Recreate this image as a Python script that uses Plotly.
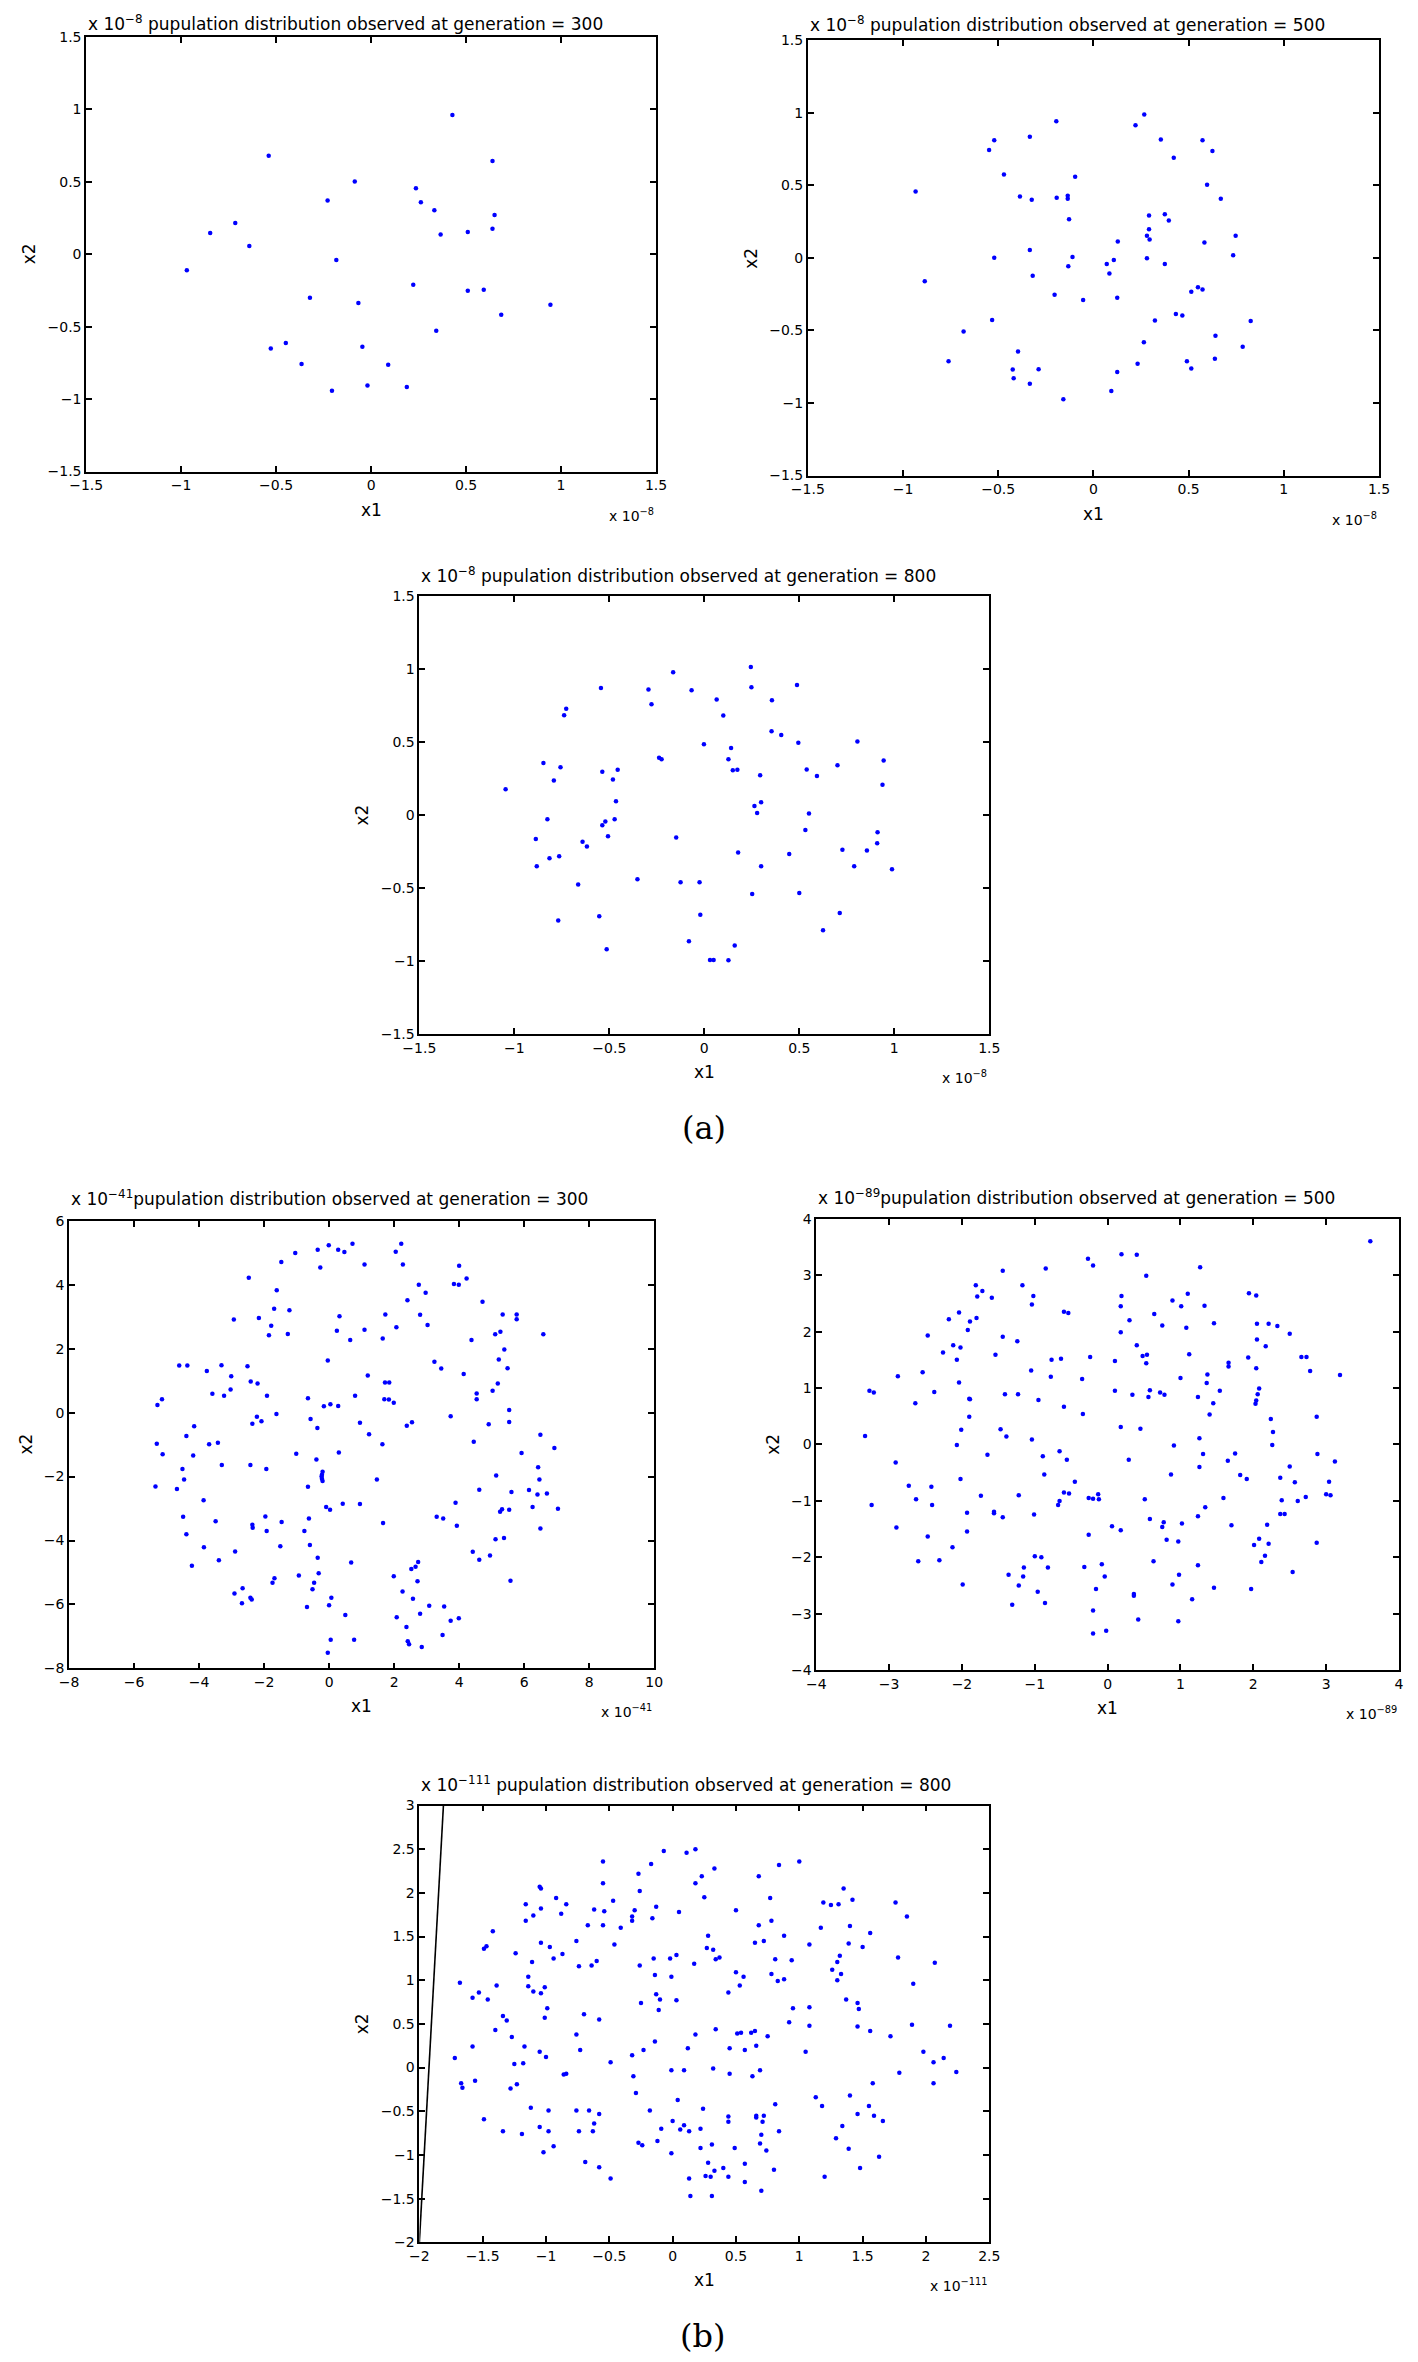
import plotly.graph_objects as go

PAGE_W, PAGE_H = 1418, 2362
OFF = 8  # default page margin around the plot div
W, H = PAGE_W - 2 * OFF, PAGE_H - 2 * OFF

# ---------------- data (values in units shown on the axes) ----------------
p1_x1 = [0.428, -0.539, 0.639, -0.086, 0.236, -0.229, 0.262, 0.333, 0.650, -0.715, 0.639, -0.847, 0.509,
         0.366, -0.641, -0.183, -0.970, 0.222, 0.509, 0.593, -0.322, -0.067, 0.944, 0.685, 0.343, -0.449,
         -0.528, -0.046, -0.366, 0.090, -0.019, 0.188, -0.206]
p1_x2 = [0.961, 0.680, 0.643, 0.501, 0.456, 0.371, 0.358, 0.303, 0.271, 0.216, 0.175, 0.147, 0.154,
         0.136, 0.056, -0.040, -0.111, -0.211, -0.252, -0.246, -0.300, -0.337, -0.348, -0.417, -0.529, -0.613,
         -0.650, -0.639, -0.757, -0.762, -0.906, -0.917, -0.942]

p2_x1 = [0.267, -0.195, 0.221, -0.334, -0.521, 0.354, 0.573, -0.548, 0.625, 0.422, -0.470, -0.096, 0.597,
         -0.934, -0.386, -0.324, -0.193, -0.135, -0.135, 0.669, 0.292, 0.375, 0.396, -0.128, 0.292, 0.281,
         0.295, 0.747, 0.128, 0.583, -0.334, -0.521, -0.110, 0.281, 0.734, 0.107, 0.070, -0.132, 0.375,
         0.084, -0.319, -0.886, 0.549, 0.514, 0.573, -0.204, -0.054, 0.125, 0.433, 0.467, -0.532, 0.323,
         0.826, -0.682, 0.265, 0.641, 0.784, -0.396, -0.761, 0.491, 0.638, 0.232, -0.424, -0.288, 0.514,
         0.125, -0.419, -0.334, 0.094, -0.158]
p2_x2 = [0.987, 0.941, 0.913, 0.834, 0.811, 0.816, 0.811, 0.743, 0.736, 0.690, 0.574, 0.558, 0.503,
         0.457, 0.423, 0.400, 0.414, 0.428, 0.407, 0.407, 0.291, 0.300, 0.257, 0.266, 0.197, 0.152,
         0.127, 0.152, 0.113, 0.106, 0.054, 0.001, 0.006, -0.003, 0.017, -0.015, -0.042, -0.058, -0.042,
         -0.108, -0.124, -0.161, -0.202, -0.234, -0.218, -0.254, -0.291, -0.275, -0.387, -0.398, -0.428, -0.432,
         -0.435, -0.508, -0.581, -0.537, -0.612, -0.645, -0.713, -0.713, -0.695, -0.729, -0.770, -0.768, -0.763,
         -0.786, -0.829, -0.868, -0.918, -0.975]

p3_x1 = [0.245, -0.164, 0.488, -0.544, 0.248, -0.294, -0.067, 0.065, 0.356, -0.278, -0.727, -0.738, 0.100,
         0.354, 0.405, 0.806, 0.495, -0.002, 0.141, -0.238, -0.225, 0.127, 0.944, -0.847, 0.701, -0.757,
         -0.456, 0.150, 0.174, 0.539, -0.537, 0.294, 0.593, -0.481, -0.792, 0.938, -1.046, -0.465, 0.299,
         0.264, 0.278, 0.551, -0.826, -0.472, -0.521, -0.537, 0.532, 0.912, -0.507, -0.148, -0.887, -0.641,
         0.910, -0.618, 0.727, 0.856, 0.178, 0.447, -0.764, -0.815, -0.882, 0.299, 0.789, 0.988, -0.352,
         -0.125, -0.025, -0.664, 0.252, 0.500, -0.553, -0.021, 0.713, -0.769, 0.625, -0.081, 0.160, -0.514,
         0.030, 0.049, 0.127]
p3_x2 = [1.016, 0.979, 0.893, 0.872, 0.877, 0.861, 0.856, 0.793, 0.788, 0.761, 0.730, 0.685, 0.683,
         0.575, 0.549, 0.505, 0.497, 0.486, 0.460, 0.394, 0.384, 0.384, 0.374, 0.358, 0.342, 0.329,
         0.311, 0.308, 0.311, 0.313, 0.298, 0.274, 0.269, 0.245, 0.237, 0.208, 0.177, 0.096, 0.088,
         0.062, 0.014, 0.012, -0.028, -0.028, -0.043, -0.069, -0.101, -0.117, -0.145, -0.153, -0.164, -0.182,
         -0.193, -0.214, -0.237, -0.242, -0.256, -0.266, -0.282, -0.295, -0.350, -0.350, -0.350, -0.371, -0.439,
         -0.460, -0.460, -0.476, -0.541, -0.533, -0.693, -0.683, -0.670, -0.722, -0.788, -0.864, -0.893, -0.919,
         -0.992, -0.992, -0.995]

p4_x1 = [0.72, 2.22, -0.01, 0.28, -0.35, 0.47, -1.04, 2.05, -1.47, 1.09, 2.27, -0.27, 4.00, -2.47, 4.23,
         3.84, 3.99, 2.76, -1.61, 2.97, 2.41, 4.72, -1.69, -1.22, 5.34, 5.77, 1.73, 2.80, 0.32, -2.16,
         -2.93, 5.77, -1.78, 3.03, 2.07, 1.09, 0.24, 5.27, -1.27, 5.11, 6.59, -1.85, 1.65, 0.65, 4.38,
         5.39, 5.22, -0.04, 3.24, -4.61, -4.36, -3.31, -2.51, 3.45, 5.49, -3.76, 1.19, -3.01, 4.14, -2.41,
         -2.20, 1.72, 1.85, 5.19, -3.03, 5.03, -3.59, 4.54, -1.91, -3.23, 0.80, -5.14, -0.65, 1.70, 1.84,
         4.54, -5.28, 1.99, 0.04, -0.16, 0.28, 5.54, -1.62, -2.22, 3.74, -0.57, -2.08, 5.54, -2.36, 0.95,
         2.55, 2.39, 4.91, -4.15, -0.36, 1.23, 6.50, -4.39, 4.45, -3.42, -3.69, 1.64, -5.30, 6.93, -1.01,
         0.30, 5.92, -5.12, -4.18, -0.39, -3.30, -2.42, -4.51, -1.93, 6.43, -0.20, -0.22, -0.23, -0.22,
         -0.20, 5.14, 1.47, -4.46, 6.47, -0.65, -5.34, -4.68, 4.62, 6.15, 5.61, 6.70, 6.41, -3.86, 0.42,
         0.95, 3.89, -0.09, 0.03, 6.26, 7.04, 5.32, 5.26, 5.54, 3.31, 3.51, -1.96, -0.62, -4.49, 1.66,
         -3.49, -1.46, -2.36, -2.35, 3.93, 6.50, -0.76, -1.92, -4.39, 5.38, 5.12, -0.59, -1.50, -3.85,
         -2.89, 4.42, -0.35, 4.95, -3.39, 4.62, 0.68, 2.74, -4.22, 2.66, 2.53, -0.32, -0.93, 1.99, -1.68,
         2.72, 5.58, -0.46, -1.74, -2.66, -0.51, 2.26, -2.91, -2.42, -2.38, 0.07, 2.58, -2.68, 0.00, -0.68,
         3.08, 3.54, 3.99, 0.50, 2.80, 2.08, 3.74, 2.38, 3.49, 0.05, 0.77, 2.42, 2.46, 2.85, -0.04]
p4_x2 = [5.28, 5.28, 5.23, 5.09, 5.09, 5.02, 4.99, 5.03, 4.71, 4.63, 4.63, 4.54, 4.59, 4.22, 4.19,
         4.02, 4.00, 4.00, 3.83, 3.75, 3.51, 3.47, 3.25, 3.20, 3.07, 3.07, 3.07, 3.06, 3.01, 2.96,
         2.91, 2.92, 2.72, 2.74, 2.67, 2.59, 2.56, 2.53, 2.46, 2.45, 2.45, 2.42, 2.32, 2.27, 2.27,
         1.97, 1.66, 1.63, 1.59, 1.47, 1.47, 1.48, 1.45, 1.38, 1.39, 1.30, 1.16, 1.14, 1.21, 0.97,
         0.91, 0.94, 0.94, 0.91, 0.72, 0.68, 0.59, 0.60, 0.53, 0.53, 0.53, 0.42, 0.45, 0.42, 0.41,
         0.42, 0.24, 0.31, 0.26, 0.20, 0.21, 0.08, -0.04, -0.13, -0.11, -0.20, -0.27, -0.29, -0.35, -0.32,
         -0.30, -0.41, -0.36, -0.43, -0.48, -0.68, -0.69, -0.73, -0.91, -0.94, -0.99, -0.99, -0.97, -1.11, -1.29,
         -1.25, -1.26, -1.30, -1.34, -1.47, -1.64, -1.64, -1.76, -1.76, -1.71, -1.85, -1.94, -2.00, -2.07,
         -2.14, -1.97, -2.09, -2.09, -2.09, -2.32, -2.31, -2.39, -2.41, -2.42, -2.48, -2.53, -2.56, -2.74, -2.85,
         -2.86, -2.82, -2.95, -3.04, -2.95, -3.01, -3.02, -3.10, -3.04, -3.26, -3.31, -3.25, -3.31, -3.26, -3.45,
         -3.40, -3.42, -3.51, -3.60, -3.54, -3.62, -3.70, -3.70, -3.80, -3.92, -3.96, -4.14, -4.18, -4.21,
         -4.34, -4.35, -4.54, -4.47, -4.62, -4.60, -4.69, -4.67, -4.79, -4.82, -4.89, -5.02, -5.09, -5.12, -5.18,
         -5.27, -5.26, -5.32, -5.32, -5.49, -5.52, -5.59, -5.66, -5.79, -5.84, -5.79, -5.82, -5.96, -6.02, -6.08,
         -6.04, -6.06, -6.43, -6.33, -6.29, -6.40, -6.51, -6.70, -6.95, -7.10, -7.10, -7.15, -7.24, -7.33, -7.51]

p5_x1 = [3.606, 0.19, 0.40, -0.27, -0.20, 1.27, -0.85, -1.44, 0.53, -1.81, -1.17, -1.72, 1.10, 1.94, 2.04,
         -1.02, 0.19, -1.79, -1.59, 0.89, -1.04, 0.18, 1.01, 1.33, -0.60, -0.54, -2.04, 0.64, -2.18, -1.80,
         0.30, -1.89, 1.46, 2.05, 2.21, 2.33, 0.75, 1.08, -1.92, 0.18, 2.50, -2.47, -1.44, 2.05, -1.24,
         -2.12, 0.40, 2.17, -2.02, -2.26, 1.12, -1.54, 0.54, 0.48, -0.24, 2.66, 2.73, 1.93, -2.07, -0.77,
         -0.64, 0.10, 0.53, 1.66, 1.66, 2.04, -1.05, 2.78, -2.54, 1.37, 3.19, -2.88, -0.78, -0.35, 1.00,
         -2.04, 1.36, 2.08, 1.54, -3.27, 0.10, 0.58, -2.38, -3.21, 0.72, 2.06, -1.41, -1.23, 0.34, 0.78,
         0.56, 1.24, -1.90, -1.89, -0.95, 2.04, 2.03, -2.64, 1.45, -0.60, 1.40, -0.34, -1.90, 2.87, 2.24,
         0.18, 0.45, -1.47, -2.01, 2.27, -1.39, -3.33, 1.26, -1.04, -2.07, 0.91, 2.26, -0.66, 1.75, 1.31,
         -1.65, 2.88, -0.89, -0.56, 0.29, 1.65, 3.12, -2.91, 1.26, 2.50, -0.87, 0.87, 1.82, -2.02, 1.91,
         2.37, -0.45, 3.04, 2.57, -2.73, -2.42, -0.60, -0.13, -0.53, 3.00, 3.06, -1.74, -1.22, -0.26, -0.20,
         -0.12, 0.51, 2.72, 1.59, -2.63, 2.39, 2.61, -0.66, -0.68, -3.24, -2.41, 1.34, -1.56, -1.93, -1.01,
         -1.56, 2.37, 2.43, 1.24, -1.44, 0.58, 0.77, 1.02, 1.70, 2.19, 0.06, 0.75, -2.90, 0.18, -1.93,
         -0.26, -2.47, 2.08, 0.81, 0.97, 2.87, 2.21, 2.01, -2.13, 2.16, -1.00, -0.91, -2.31, -2.60, 0.63,
         2.11, -0.08, 1.24, -1.15, -0.82, -0.32, -1.36, 0.98, -1.16, -0.04, 2.54, -1.99, -1.22, 0.89, -0.16,
         1.46, 1.97, 0.36, 0.36, -0.96, 1.16, -0.86, -1.31, -0.20, 0.42, 0.97, -0.02, -0.20]
p5_x2 = [3.60, 3.37, 3.36, 3.29, 3.17, 3.14, 3.12, 3.08, 2.99, 2.82, 2.82, 2.72, 2.67, 2.68, 2.64,
         2.63, 2.63, 2.62, 2.60, 2.55, 2.48, 2.45, 2.45, 2.46, 2.35, 2.33, 2.34, 2.31, 2.22, 2.24,
         2.20, 2.18, 2.15, 2.14, 2.14, 2.10, 2.11, 2.07, 2.03, 1.99, 1.96, 1.93, 1.91, 1.86, 1.83,
         1.76, 1.76, 1.74, 1.72, 1.63, 1.60, 1.59, 1.59, 1.57, 1.55, 1.55, 1.55, 1.54, 1.50, 1.50,
         1.52, 1.48, 1.44, 1.45, 1.38, 1.35, 1.31, 1.30, 1.28, 1.24, 1.23, 1.21, 1.20, 1.16, 1.18,
         1.10, 1.09, 0.99, 0.95, 0.95, 0.95, 0.96, 0.93, 0.92, 0.92, 0.89, 0.89, 0.89, 0.88, 0.88,
         0.84, 0.84, 0.81, 0.80, 0.79, 0.78, 0.72, 0.73, 0.73, 0.67, 0.53, 0.54, 0.49, 0.49, 0.45,
         0.31, 0.28, 0.27, 0.26, 0.22, 0.14, 0.15, 0.11, 0.09, -0.01, -0.02, -0.01, -0.12, -0.16, -0.17,
         -0.18, -0.17, -0.21, -0.27, -0.27, -0.29, -0.30, -0.32, -0.40, -0.39, -0.53, -0.53, -0.54, -0.61, -0.61,
         -0.59, -0.66, -0.66, -0.67, -0.73, -0.75, -0.85, -0.88, -0.87, -0.88, -0.90, -0.91, -0.90, -0.95, -0.96,
         -0.97, -0.97, -0.93, -0.95, -0.97, -0.99, -1.00, -1.00, -1.07, -1.07, -1.07, -1.11, -1.19, -1.21, -1.24,
         -1.22, -1.23, -1.23, -1.27, -1.29, -1.32, -1.38, -1.40, -1.43, -1.42, -1.45, -1.46, -1.47, -1.52, -1.54,
         -1.60, -1.63, -1.67, -1.69, -1.72, -1.74, -1.76, -1.78, -1.82, -1.97, -1.98, -2.00, -2.05, -2.07, -2.07,
         -2.08, -2.12, -2.14, -2.18, -2.18, -2.17, -2.31, -2.31, -2.34, -2.34, -2.26, -2.48, -2.50, -2.48, -2.56,
         -2.54, -2.56, -2.65, -2.68, -2.61, -2.74, -2.81, -2.84, -2.94, -3.10, -3.13, -3.30, -3.35]

p6_x1 = [0.18, -0.07, 0.11, -0.55, 1.00, 0.84, -0.17, 0.33, -0.27, 0.68, 0.23, -0.55, 0.18, -1.05, -1.04,
         1.35, -0.26, 0.25, -0.92, 1.42, 0.77, -0.47, 1.76, 1.19, 1.25, 1.31, -1.16, -0.84, -0.13, -1.04,
         -0.62, 0.50, -0.30, -0.54, 0.05, -0.88, -1.10, 1.85, -0.16, -0.32, -1.16, -0.32, 0.78, -0.67, -0.55,
         0.68, 1.40, 1.17, -0.41, -1.42, 1.56, 0.28, 0.88, 1.08, 0.65, -1.04, -0.46, -0.76, 0.72, 1.39,
         1.50, -1.47, -1.49, -0.97, 0.27, 0.32, -1.24, -0.87, 0.03, -0.94, 1.32, 0.37, 0.34, -0.02, 0.81,
         0.94, 1.78, -0.15, -0.60, -1.11, 1.30, -0.64, -0.26, 0.17, -0.74, 2.07, 1.26, 1.33, 0.50, -1.14,
         -0.14, 0.78, -0.01, 0.56, 0.88, 1.30, 0.83, -1.68, 0.53, 1.90, -1.39, -1.14, -1.01, -1.53, -1.10,
         -1.04, 0.44, -0.13, -1.58, -0.10, 0.03, -1.46, 1.37, -0.25, 1.46, -0.99, -0.11, 0.95, 1.08, 1.47,
         -0.70, -1.34, -1.31, -0.58, -1.01, 0.92, 1.08, 1.89, 2.19, 1.46, 0.34, 1.56, -1.40, 0.51, 0.54,
         0.62, 0.65, -0.76, 0.18, 1.72, -1.27, 0.75, -0.14, 0.66, -1.17, -1.58, 0.12, 0.45, -0.23, -0.73,
         0.57, 1.05, 1.98, -1.05, -0.32, -1.00, -1.72, 2.14, -0.49, 2.06, -1.18, -1.25, 0.32, -0.01, 0.09,
         0.69, 2.24, -0.84, -0.86, 0.45, 0.63, 1.79, -0.31, -1.67, -1.56, 1.58, 2.06, -1.23, -1.66, -1.28,
         -0.29, 1.40, 0.04, 1.13, 1.18, 0.81, 1.55, -1.12, 0.24, -0.18, -0.98, -0.76, -0.66, -0.58, 1.46,
         1.59, 0.44, 0.66, 0.72, 1.66, -1.49, 0.00, 0.66, 0.44, 0.71, -0.62, 0.09, -0.09, 0.22, 0.06,
         0.13, -1.34, -1.05, -0.98, -0.74, -0.63, 0.84, 1.34, -1.19, 0.70, 1.29, -0.27, -0.24, -0.12, 0.31,
         0.69, -0.94, 0.49, 0.22, 0.74, 1.39, -1.02, -0.01, 1.63, -0.69, 0.28, 0.57, 0.40, -0.58, 0.80,
         0.33, 1.48, 0.26, 0.30, 0.44, 1.20, -0.49, 0.13, 0.57, 0.14, 0.31, 0.70]
p6_x2 = [2.50, 2.48, 2.46, 2.36, 2.36, 2.32, 2.33, 2.28, 2.22, 2.19, 2.19, 2.11, 2.11, 2.07, 2.05,
         2.05, 2.02, 1.95, 1.94, 1.92, 1.94, 1.91, 1.89, 1.89, 1.86, 1.87, 1.87, 1.87, 1.84, 1.82,
         1.81, 1.80, 1.80, 1.79, 1.78, 1.76, 1.74, 1.73, 1.71, 1.73, 1.68, 1.68, 1.68, 1.63, 1.63,
         1.63, 1.62, 1.60, 1.60, 1.56, 1.54, 1.51, 1.51, 1.41, 1.43, 1.43, 1.41, 1.45, 1.45, 1.42,
         1.38, 1.39, 1.36, 1.38, 1.37, 1.35, 1.31, 1.30, 1.29, 1.25, 1.28, 1.26, 1.24, 1.25, 1.24,
         1.23, 1.26, 1.25, 1.22, 1.21, 1.21, 1.17, 1.17, 1.19, 1.16, 1.20, 1.12, 1.07, 1.09, 1.04,
         1.06, 1.07, 1.04, 1.04, 1.01, 1.00, 0.99, 0.97, 0.94, 0.96, 0.94, 0.93, 0.92, 0.86, 0.87,
         0.85, 0.86, 0.84, 0.80, 0.78, 0.77, 0.78, 0.78, 0.74, 0.74, 0.68, 0.66, 0.68, 0.69, 0.67,
         0.61, 0.59, 0.54, 0.55, 0.57, 0.52, 0.48, 0.49, 0.48, 0.47, 0.44, 0.42, 0.43, 0.39, 0.40,
         0.40, 0.42, 0.38, 0.38, 0.36, 0.35, 0.36, 0.30, 0.25, 0.24, 0.24, 0.22, 0.22, 0.20, 0.20,
         0.20, 0.18, 0.18, 0.18, 0.14, 0.12, 0.11, 0.11, 0.06, 0.06, 0.05, 0.04, -0.01, -0.03, -0.03,
         -0.03, -0.05, -0.07, -0.08, -0.07, -0.10, -0.06, -0.10, -0.18, -0.15, -0.18, -0.18, -0.19, -0.23, -0.24,
         -0.29, -0.32, -0.37, -0.34, -0.44, -0.42, -0.44, -0.46, -0.47, -0.49, -0.49, -0.49, -0.49, -0.53, -0.53,
         -0.55, -0.56, -0.55, -0.55, -0.61, -0.59, -0.61, -0.57, -0.62, -0.62, -0.64, -0.66, -0.70, -0.70, -0.71,
         -0.73, -0.73, -0.68, -0.73, -0.73, -0.73, -0.73, -0.67, -0.76, -0.77, -0.81, -0.86, -0.89, -0.84, -0.88,
         -0.87, -0.90, -0.92, -0.92, -0.95, -0.93, -0.97, -0.98, -1.02, -1.08, -1.09, -1.10, -1.15, -1.14, -1.17,
         -1.18, -1.15, -1.24, -1.25, -1.25, -1.25, -1.27, -1.27, -1.31, -1.47, -1.47, -1.41]

# straight line drawn in the last panel
p6_line_x1 = [-2.0, -1.81]
p6_line_x2 = [-2.0, 3.0]

# tick values / labels
ticks_15 = [-1.5, -1, -0.5, 0, 0.5, 1, 1.5]
ticks_15_text = ["\u22121.5", "\u22121", "\u22120.5", "0", "0.5", "1", "1.5"]
ticks_p4x = [-8, -6, -4, -2, 0, 2, 4, 6, 8, 10]
ticks_p4x_text = ["\u22128", "\u22126", "\u22124", "\u22122", "0", "2", "4", "6", "8", "10"]
ticks_p4y = [-8, -6, -4, -2, 0, 2, 4, 6]
ticks_p4y_text = ["\u22128", "\u22126", "\u22124", "\u22122", "0", "2", "4", "6"]
ticks_p5 = [-4, -3, -2, -1, 0, 1, 2, 3, 4]
ticks_p5_text = ["\u22124", "\u22123", "\u22122", "\u22121", "0", "1", "2", "3", "4"]
ticks_p6x = [-2, -1.5, -1, -0.5, 0, 0.5, 1, 1.5, 2, 2.5]
ticks_p6x_text = ["\u22122", "\u22121.5", "\u22121", "\u22120.5", "0", "0.5", "1", "1.5", "2", "2.5"]
ticks_p6y = [-2, -1.5, -1, -0.5, 0, 0.5, 1, 1.5, 2, 2.5, 3]
ticks_p6y_text = ["\u22122", "\u22121.5", "\u22121", "\u22120.5", "0", "0.5", "1", "1.5", "2", "2.5", "3"]

titles = [
    "x 10<sup>\u22128</sup> pupulation distribution observed at generation = 300",
    "x 10<sup>\u22128</sup> pupulation distribution observed at generation = 500",
    "x 10<sup>\u22128</sup> pupulation distribution observed at generation = 800",
    "x 10<sup>\u221241</sup>pupulation distribution observed at generation = 300",
    "x 10<sup>\u221289</sup>pupulation distribution observed at generation = 500",
    "x 10<sup>\u2212111</sup> pupulation distribution observed at generation = 800",
]
exponents = ["\u22128", "\u22128", "\u22128", "\u221241", "\u221289", "\u2212111"]

# ---------------- layout geometry (page-pixel frames: left, top, right, bottom) ----------------
frames = [
    (70.4, 29.0, 651.9, 466.7),
    (806.8, 32.3, 1389.6, 470.7),
    (410.4, 592.3, 991.9, 1033.0),
    (52.9, 1221.0, 650.0, 1671.8),
    (815.4, 1219.0, 1410.0, 1673.6),
    (410.4, 1809.8, 991.9, 2249.6),
]
title_shift = [1, 3, 8, 10, 9, 9]
panels = [
    (p1_x1, p1_x2, [-1.5, 1.5], [-1.5, 1.5], ticks_15, ticks_15_text, ticks_15, ticks_15_text, 57),
    (p2_x1, p2_x2, [-1.5, 1.5], [-1.5, 1.5], ticks_15, ticks_15_text, ticks_15, ticks_15_text, 57),
    (p3_x1, p3_x2, [-1.5, 1.5], [-1.5, 1.5], ticks_15, ticks_15_text, ticks_15, ticks_15_text, 57),
    (p4_x1, p4_x2, [-8, 10], [-8, 6], ticks_p4x, ticks_p4x_text, ticks_p4y, ticks_p4y_text, 43),
    (p5_x1, p5_x2, [-4, 4], [-4, 4], ticks_p5, ticks_p5_text, ticks_p5, ticks_p5_text, 43),
    (p6_x1, p6_x2, [-2, 2.5], [-2, 3], ticks_p6x, ticks_p6x_text, ticks_p6y, ticks_p6y_text, 57),
]


def px(x):
    return min(1.0, max(0.0, (x - OFF) / W))


def py(y):
    return min(1.0, max(0.0, 1 - (y - OFF) / H))


FONT = "DejaVu Sans, Liberation Sans, Arial, sans-serif"
fig = go.Figure()
annotations = []
layout = {}

for i, (frm, pan) in enumerate(zip(frames, panels)):
    n = i + 1
    sx = "" if n == 1 else str(n)
    L, T, R, B = frm
    xs, ys, xr, yr, xtv, xtt, ytv, ytt, ylab_off = pan
    fig.add_trace(go.Scatter(
        x=xs, y=ys, mode="markers", xaxis="x" + sx, yaxis="y" + sx,
        marker=dict(color="#0000ff", size=4.5, line=dict(width=0)),
        showlegend=False, hoverinfo="skip", cliponaxis=True))
    common = dict(showgrid=False, zeroline=False, showline=True, linecolor="black", linewidth=1.7,
                  mirror="ticks", ticks="inside", ticklen=6, tickwidth=1.5, tickcolor="black",
                  tickfont=dict(family=FONT, size=14, color="black"), fixedrange=True)
    layout["xaxis" + sx] = dict(common, domain=[px(L), px(R)], range=xr, anchor="y" + sx,
                                tickmode="array", tickvals=xtv, ticktext=xtt)
    layout["yaxis" + sx] = dict(common, domain=[py(B), py(T)], range=yr, anchor="x" + sx,
                                tickmode="array", tickvals=ytv, ticktext=ytt)
    xd, yd = "x" + sx + " domain", "y" + sx + " domain"
    annotations.append(dict(text=titles[i], xref=xd, yref=yd, x=0, y=1, xanchor="left", yanchor="bottom",
                            yshift=title_shift[i], showarrow=False,
                            font=dict(family=FONT, size=17, color="black")))
    annotations.append(dict(text="x1", xref=xd, yref=yd, x=0.5, y=0, xanchor="center", yanchor="middle",
                            yshift=-38, showarrow=False, font=dict(family=FONT, size=17, color="black")))
    annotations.append(dict(text="x2", xref=xd, yref=yd, x=0, y=0.5, xanchor="center", yanchor="middle",
                            xshift=-ylab_off, textangle=-90, showarrow=False,
                            font=dict(family=FONT, size=17, color="black")))
    annotations.append(dict(text="x 10<sup>" + exponents[i] + "</sup>", xref=xd, yref=yd, x=1, y=0,
                            xanchor="right", yanchor="middle", yshift=-43, showarrow=False,
                            font=dict(family=FONT, size=14, color="black")))

fig.add_trace(go.Scatter(x=p6_line_x1, y=p6_line_x2, mode="lines", xaxis="x6", yaxis="y6",
                         line=dict(color="black", width=1.6), showlegend=False, hoverinfo="skip"))

annotations.append(dict(text="(a)", xref="paper", yref="paper", x=px(701), y=py(1128),
                        xanchor="center", yanchor="middle", showarrow=False,
                        font=dict(family="DejaVu Serif, Liberation Serif, serif", size=32, color="black")))
annotations.append(dict(text="(b)", xref="paper", yref="paper", x=px(699), y=py(2344),
                        xanchor="center", yanchor="middle", showarrow=False,
                        font=dict(family="DejaVu Serif, Liberation Serif, serif", size=32, color="black")))

fig.update_layout(width=W, height=H, margin=dict(l=0, r=0, t=0, b=0), paper_bgcolor="white",
                  plot_bgcolor="white", annotations=annotations, showlegend=False, **layout)

fig.write_html("out.html")
